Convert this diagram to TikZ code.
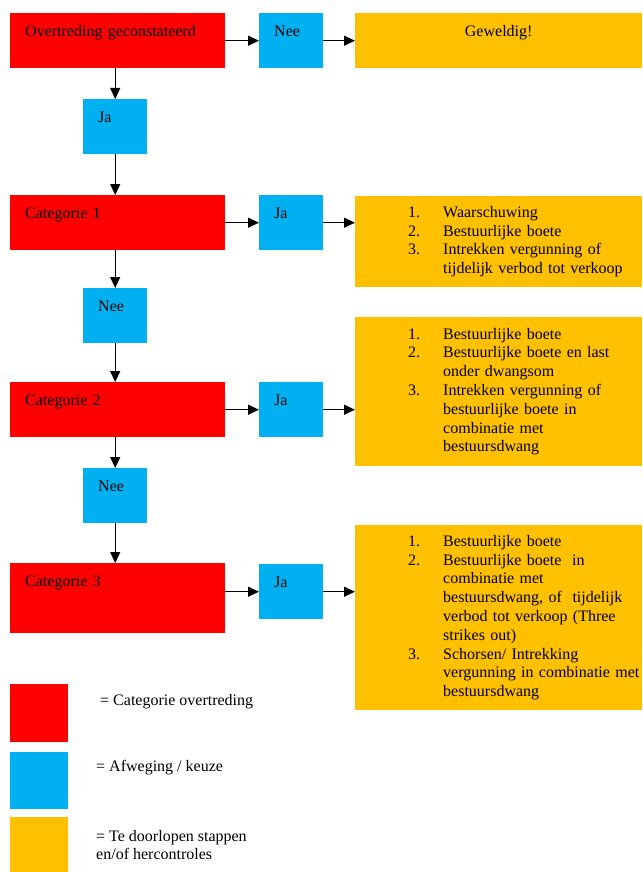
\documentclass[tikz,border=0pt]{standalone}
\usepackage{fontspec}
\setmainfont{Liberation Serif}
\usetikzlibrary{arrows.meta}

\definecolor{rood}{HTML}{FF0000}
\definecolor{blauw}{HTML}{00B0F0}
\definecolor{oranje}{HTML}{FFC000}

\tikzset{
  kop/.style={anchor=north west, align=left, inner xsep=15pt, inner ysep=12pt,
    text height=11pt, text depth=#1},
  kop/.default=20pt,
  cat/.style={kop=#1, fill=rood, text width=185pt},
  cat/.default=20pt,
  keuze/.style={kop, fill=blauw, text width=34pt},
  stap/.style={anchor=north west, fill=oranje, inner sep=0pt, text width=287pt,
    minimum height=#1},
  leg/.style={anchor=north west, inner sep=0pt, minimum width=58pt, minimum height=#1},
  pijl/.style={draw, line width=1.2pt, -{Triangle[length=11pt,width=10pt]}},
}

\newcommand{\maatlijst}[1]{%
  \begin{tabular}{@{\hspace{53pt}}p{35pt}@{}p{199pt}@{}}#1\end{tabular}}

\begin{document}
\begin{tikzpicture}[x=1pt, y=-1pt, font=\fontsize{16}{18.8}\selectfont]

        \useasboundingbox (0,0) rectangle (642,872);

        % stroomschema
        \node[cat]   (ov)   at (10,13)  {Overtreding geconstateerd};
        \node[keuze] (nee1) at (259,13) {Nee};
        \node[kop, fill=oranje, text width=257pt, align=center] (gew) at (355,13) {Geweldig!};

        \node[keuze] (ja1)  at (83,99)   {Ja};

        \node[cat]   (cat1) at (10,195)  {Categorie 1};
        \node[keuze] (ja2)  at (259,195) {Ja};
        \node[stap=91pt] (maat1) at (355,196) {\maatlijst{
            1. & Waarschuwing\\
            2. & Bestuurlijke boete\\
            3. & Intrekken vergunning of\newline tijdelijk verbod tot verkoop}};

        \node[keuze] (nee2) at (83,288)  {Nee};

        \node[cat]   (cat2) at (10,382)  {Categorie 2};
        \node[keuze] (ja3)  at (259,382) {Ja};
        \node[stap=149pt] (maat2) at (355,317) {\maatlijst{
            1. & Bestuurlijke boete\\
            2. & Bestuurlijke boete en last\newline onder dwangsom\\
            3. & Intrekken vergunning of\newline bestuurlijke boete in\newline
                 combinatie met\newline bestuursdwang}};

        \node[keuze] (nee3) at (83,468)  {Nee};

        \node[cat=35pt] (cat3) at (10,563) {Categorie 3};
        \node[keuze] (ja4)  at (259,564) {Ja};
        \node[stap=185pt] (maat3) at (355,525) {\maatlijst{
            1. & Bestuurlijke boete\\
            2. & Bestuurlijke boete\ \ in\newline combinatie met\newline
                 bestuursdwang, of\ \ tijdelijk\newline verbod tot verkoop (Three\newline
                 strikes out)\\
            3. & Schorsen/ Intrekking\newline vergunning in combinatie met\newline
                 bestuursdwang}};

        \begin{scope}[every edge/.style={pijl}]
          \path (ov.east)   edge (nee1.west);
          \path (nee1.east) edge (gew.west);
          \path (ja1.north |- ov.south) edge (ja1.north);
          \path (ja1.south) edge (ja1.south |- cat1.north);
          \path (cat1.east) edge (ja2.west);
          \path (ja2.east)  edge (ja2.east -| maat1.west);
          \path (nee2.north |- cat1.south) edge (nee2.north);
          \path (nee2.south) edge (nee2.south |- cat2.north);
          \path (cat2.east) edge (ja3.west);
          \path (ja3.east)  edge (ja3.east -| maat2.west);
          \path (nee3.north |- cat2.south) edge (nee3.north);
          \path (nee3.south) edge (nee3.south |- cat3.north);
          \path (ja4.west -| cat3.east) edge (ja4.west);
          \path (ja4.east)  edge (ja4.east -| maat3.west);
        \end{scope}

        % legenda
        \node[leg=58pt, fill=rood]   (legcat)  at (10,684) {};
        \node[leg=57pt, fill=blauw]  (legafw)  at (10,752) {};
        \node[leg=55pt, fill=oranje] (legstap) at (10,817) {};

        \begin{scope}[every node/.style={anchor=west, align=left, inner sep=0pt}]
          \node (legcattxt)  at (100,702) {= Categorie overtreding};
          \node (legafwtxt)  at (96,768)  {= Afweging / keuze};
          \node (legstaptxt) at (96,845)  {= Te doorlopen stappen\\en/of hercontroles};
        \end{scope}

      \end{tikzpicture}
\end{document}
